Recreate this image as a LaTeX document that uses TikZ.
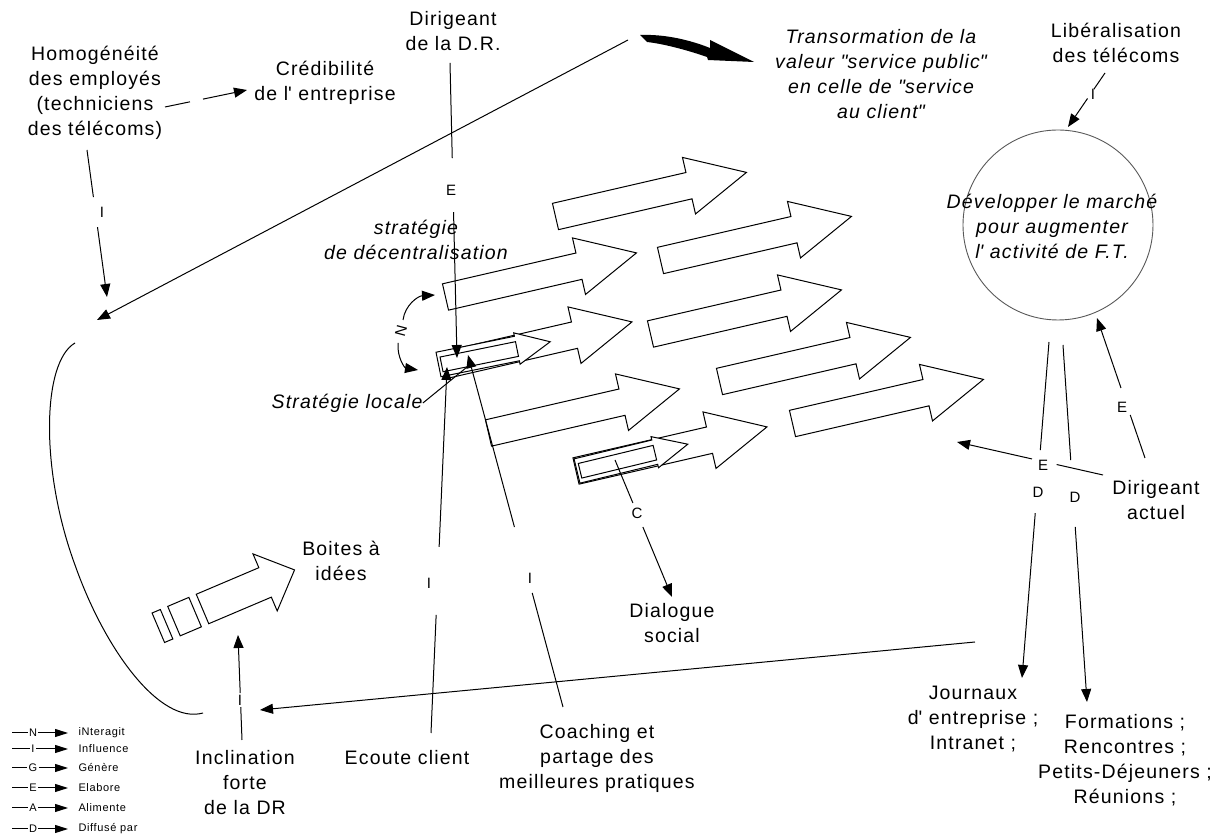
\documentclass[tikz,border=0pt]{standalone}
\usepackage{fontspec}
\setmainfont{Liberation Sans}[LetterSpace=6]
\usetikzlibrary{arrows.meta}
\tikzset{
  txt/.style={align=center,inner sep=0pt,font=\fontsize{9.75}{12.5}\selectfont},
  ittxt/.style={align=center,inner sep=0pt,font=\fontsize{9.75}{12.5}\selectfont\itshape},
  lbl/.style={inner sep=0pt,font=\fontsize{7.5}{8}\selectfont},
  leg/.style={inner sep=0.5pt,font=\fontsize{5.5}{6}\selectfont},
  cut/.style 2 args={dash pattern=on #1pt off #2pt on 400pt},
  bigarrow/.pic={
    \draw[fill=white] (0,-13.5) -- (137,-13.5) -- (137,-29) -- (196,0) -- (137,29) -- (137,13.5) -- (0,13.5) -- cycle;
  },
  dblarrow/.pic={
    \draw[fill=white] (0,-12.5) -- (80,-12.5) -- (80,-16) -- (114,0) -- (80,16) -- (80,12.5) -- (0,12.5) -- cycle;
    \draw (3,-7) rectangle (80,8);
  },
  ideabox/.pic={
    \draw[fill=white] (0,-16) -- (68,-16) -- (68,-31) -- (100,0) -- (68,31) -- (68,16) -- (0,16) -- cycle;
    \draw (-31,-16) rectangle (-8,16);
    \draw (-48,-16) rectangle (-39,16);
  }
}
\begin{document}
\begin{tikzpicture}[x=0.5pt,y=-0.5pt,line width=0.5pt,>={Triangle[length=6.5pt,width=5pt]}]
\useasboundingbox (0,0) rectangle (1223,838);

\pic[rotate=13] (A1) at (555.5,216.5) {bigarrow};
\pic[rotate=13] (A2) at (660.5,260.5) {bigarrow};
\pic[rotate=13] (A3) at (445.5,297) {bigarrow};
\pic[rotate=13] (A4) at (650.5,334) {bigarrow};
\pic[rotate=13] (A5) at (441,366) {bigarrow};
\pic[rotate=13] (A6) at (488.5,433) {bigarrow};
\pic[rotate=13] (A7) at (576,471) {bigarrow};
\pic[rotate=13] (A8) at (719.5,381.5) {bigarrow};
\pic[rotate=13] (A9) at (792.5,423.5) {bigarrow};
\pic[rotate=11.5] (loc) at (438.5,364.5) {dblarrow};
\pic[rotate=13.6] (cc) at (577,471) {dblarrow};
\pic[rotate=23] (box) at (202.5,609) {ideabox};

\node[circle,draw=black!65,line width=0.45pt,minimum size=95pt,inner sep=0pt] (marche) at (1058,225) {};

\node[txt] (homo) at (95,93) {Homogénéité\\des employés\\(techniciens\\des télécoms)};
\node[txt] (cred) at (325,83) {Crédibilité\\de l\textquotesingle{} entreprise};
\node[txt] (dr) at (453,31) {Dirigeant\\de la D.R.};
\node[ittxt] (transf) at (881,74) {Transormation de la\\valeur \textquotedbl service public\textquotedbl\\en celle de \textquotedbl service\\au client\textquotedbl};
\node[txt] (lib) at (1116,43) {Libéralisation\\des télécoms};
\node[ittxt] (marcheTxt) at (1052,226) {Développer le marché\\pour augmenter\\ l\textquotesingle{} activité de F.T.};
\node[ittxt] (strat) at (416,240) {stratégie\\de décentralisation};
\node[ittxt] (locale) at (347,403) {Stratégie locale};
\node[txt] (boites) at (341,561) {Boites à\\idées};
\node[txt] (incl) at (245,783) {Inclination\\forte\\de la DR};
\node[txt] (ecoute) at (407,758) {Ecoute client};
\node[txt] (coach) at (597,758) {Coaching et\\partage des\\meilleures pratiques};
\node[txt] (dialogue) at (672,623) {Dialogue\\social};
\node[txt] (journaux) at (973,719) {Journaux\\d\textquotesingle{} entreprise ;\\Intranet ;};
\node[txt] (formations) at (1125,760) {Formations ;\\Rencontres ;\\Petits-Déjeuners ;\\Réunions ;};
\node[txt] (actuel) at (1156,500) {Dirigeant\\actuel};

\coordinate (homoA) at (165,107);
\coordinate (credA) at (247,90);
\coordinate (homoB) at (87,150);
\coordinate (loopA) at (107,297);
\coordinate (drA) at (450,63);
\coordinate (locA) at (457,358);
\coordinate (ecA) at (431,733);
\coordinate (locB) at (447,367);
\coordinate (coA) at (563,707);
\coordinate (locC) at (468,355);
\coordinate (locD) at (472,363);
\coordinate (cA) at (615,460);
\coordinate (dlgA) at (672,597);
\coordinate (libA) at (1105,73);
\coordinate (marA) at (1068,127);
\coordinate (actA) at (1145,458);
\coordinate (marB) at (1097,318);
\coordinate (actB) at (1103,475);
\coordinate (actT) at (957,442);
\coordinate (marC) at (1049,342);
\coordinate (jouA) at (1022,678);
\coordinate (marD) at (1063,345);
\coordinate (forA) at (1087,702);
\coordinate (incA) at (242,740);
\coordinate (boxA) at (238,635);
\coordinate (trA) at (628,40);
\coordinate (loopB) at (97,320);
\coordinate (jouB) at (975,642);
\coordinate (loopC) at (260,710);
\coordinate (nA) at (403,320);
\coordinate (nTop) at (435,295);
\coordinate (nB) at (398,343);
\coordinate (nBot) at (418,370);

\draw[->,cut={12.75}{6.65}] (homoA) -- (credA);
\draw[->,cut={23.75}{15.15}] (homoB) -- (loopA);
\node[lbl] (i1) at (102,212) {I};
\draw[->,cut={47.55}{27}] (drA) -- (locA);
\node[lbl] (e1) at (451,190) {E};
\draw[->,cut={59.1}{34.05}] (ecA) -- (locB);
\node[lbl] (i2) at (429,583) {I};
\draw[->,cut={59.05}{34.15}] (coA) -- (locC);
\node[lbl] (i3) at (530,578) {I};
\draw[->,cut={23.3}{13}] (cA) -- (dlgA);
\node[lbl] (c1) at (637,513) {C};
\draw[->,cut={9.85}{5.6}] (libA) -- (marA);
\node[lbl] (i4) at (1093,94) {I};
\draw[->,cut={22.75}{14.25}] (actA) -- (marB);
\node[lbl] (e2) at (1122,407) {E};
\draw[->,cut={23.75}{12.65}] (actB) -- (actT);
\node[lbl] (e3) at (1043,465) {E};
\draw[->,cut={54.2}{31.6}] (marC) -- (jouA);
\node[lbl] (d1) at (1038,492) {D};
\draw[->,cut={57.65}{33.55}] (marD) -- (forA);
\node[lbl] (d2) at (1075,497) {D};
\draw[->,cut={16.5}{7}] (incA) -- (boxA);
\node[lbl] (i5) at (240,700) {I};
\draw[->] (trA) -- (loopB);
\draw[->] (jouB) -- (loopC);
\draw (locale.east) -- (locD);

\node[lbl,rotate=75] (n1) at (401,331) {N};
\draw[->] (nA) .. controls (405,305) and (418,296) .. (nTop);
\draw[->] (nB) .. controls (397,358) and (405,368) .. (nBot);

\draw (75,343) .. controls (42,362) and (40,470) .. (75,565) .. controls (105,650) and (160,725) .. (203,713);

\fill (640,35) .. controls (665,34) and (690,40) .. (710,48) -- (710,40) -- (754,62) -- (708,60) -- (707,57) .. controls (690,51) and (665,44) .. (647,42) -- cycle;

\foreach \ltr/\txt/\yy in {N/iNteragit/733,I/Influence/749,G/Génère/768,E/Elabore/788,A/Alimente/808,D/Diffusé par/829}{
  \node[leg] (leg\ltr) at (33,\yy) {\ltr};
  \draw (12,\yy) -- (leg\ltr);
  \draw[-{Triangle[length=6.5pt,width=4pt]}] (leg\ltr) -- (68,\yy);
  \node[leg,anchor=west] at (77,\yy) {\txt};
}
\end{tikzpicture}
\end{document}
